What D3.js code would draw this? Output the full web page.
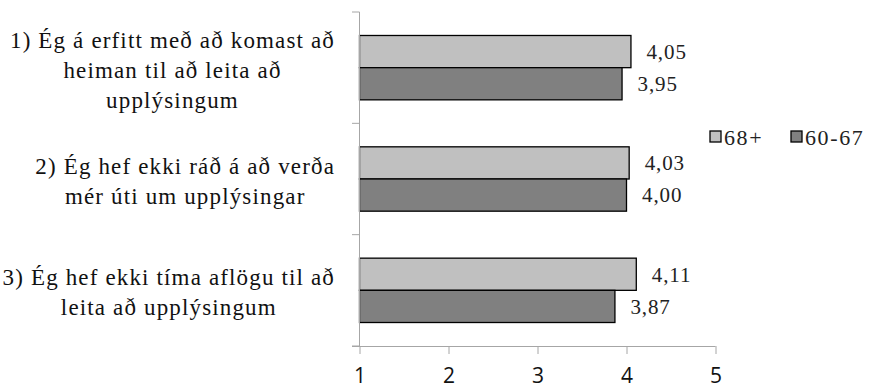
<!DOCTYPE html>
<html>
<head>
<meta charset="utf-8">
<script src="https://cdn.jsdelivr.net/npm/d3@7"></script>
<style>
  html, body { margin: 0; padding: 0; background: #fff; }
  svg { display: block; }
  .serif { font-family: "Liberation Serif", "DejaVu Serif", "Noto Serif", "Times New Roman", serif; }
  .sans { font-family: "Open Sans", "Noto Sans", sans-serif; }
</style>
</head>
<body>
<svg id="chart" width="873" height="390"></svg>
<script>
// Survey statements (each entry is a list of wrapped lines)
const categories = [
  ["1) Ég á erfitt með að komast að", "heiman til að leita að", "upplýsingum"],
  ["2) Ég hef ekki ráð á að verða", "mér úti um upplýsingar"],
  ["3) Ég hef ekki tíma aflögu til að", "leita að upplýsingum"]
];
const seriesNames = ["68+", "60-67"];
const values68 = [4.05, 4.03, 4.11];
const values6067 = [3.95, 4.00, 3.87];
const xTicks = [1, 2, 3, 4, 5];

const seriesValues = [values68, values6067];
const colors = ["#c0c0c0", "#808080"];

const svg = d3.select("#chart");
const plot = { left: 359.5, right: 715.5, top: 12, bottom: 346 };

const x = d3.scaleLinear().domain([1, 5]).range([plot.left, plot.right]);
const y = d3.scaleBand().domain(d3.range(categories.length)).range([plot.top, plot.bottom]);
const inner = d3.scaleBand().domain(d3.range(seriesNames.length))
  .range([0, y.bandwidth()]).paddingOuter(0.73).paddingInner(0);

// Bars
const groups = svg.append("g").selectAll("g")
  .data(categories.map((c, i) => i))
  .join("g")
  .attr("transform", i => `translate(0,${y(i)})`);

groups.selectAll("rect")
  .data(i => seriesValues.map((vals, s) => ({ s, v: vals[i] })))
  .join("rect")
  .attr("x", x(1))
  .attr("y", d => inner(d.s))
  .attr("width", d => x(d.v) - x(1))
  .attr("height", inner.bandwidth())
  .attr("fill", d => colors[d.s])
  .attr("stroke", "#000")
  .attr("stroke-width", 1.3);

// Value labels
groups.selectAll("text.val")
  .data(i => seriesValues.map((vals, s) => ({ s, v: vals[i] })))
  .join("text")
  .attr("class", "val serif")
  .attr("x", d => x(d.v) + 15.5)
  .attr("y", d => inner(d.s) + inner.bandwidth() / 2)
  .attr("dy", "0.35em")
  .attr("font-size", 21)
  .attr("letter-spacing", 0.9)
  .attr("fill", "#222")
  .text(d => d3.format(".2f")(d.v).replace(".", ","));

// X axis
const xAxis = svg.append("g")
  .attr("transform", `translate(0,${plot.bottom})`)
  .call(d3.axisBottom(x).tickValues(xTicks).tickSize(8).tickSizeOuter(0).tickPadding(14).tickFormat(d3.format("d")));
xAxis.select(".domain").attr("stroke", "#a6a6a6").attr("d", `M${plot.left - 7.5},0.5H${plot.right}`);
xAxis.selectAll(".tick line").attr("stroke", "#a6a6a6");
xAxis.selectAll(".tick text")
  .attr("class", "sans").attr("font-family", null).attr("font-size", 21).attr("fill", "#111");

// Y axis (category separators only)
const yAxisG = svg.append("g");
yAxisG.append("line")
  .attr("x1", plot.left).attr("x2", plot.left)
  .attr("y1", plot.top).attr("y2", plot.bottom)
  .attr("stroke", "#a6a6a6");
const sepYs = d3.range(categories.length).map(i => y(i)).concat([plot.bottom]);
yAxisG.selectAll("line.sep")
  .data(sepYs)
  .join("line")
  .attr("class", "sep")
  .attr("x1", plot.left - 7.5).attr("x2", plot.left)
  .attr("y1", d => d).attr("y2", d => d)
  .attr("stroke", "#a6a6a6");

// Category labels: centred text block, right edge aligned
const labelRight = 335;
const lineH = 30;
const labelG = svg.append("g");
categories.forEach((lines, i) => {
  const t = labelG.append("text")
    .attr("class", "serif")
    .attr("font-size", 23)
    .attr("letter-spacing", 1.15)
    .attr("fill", "#111")
    .attr("text-anchor", "middle");
  const spans = lines.map(l => t.append("tspan").text(l));
  const maxW = d3.max(spans, s => s.node().getComputedTextLength());
  const cx = labelRight - maxW / 2;
  const cy = y(i) + y.bandwidth() / 2 + 2;
  spans.forEach((s, k) => {
    s.attr("x", cx)
     .attr("y", cy + (k - (lines.length - 1) / 2) * lineH)
     .attr("dy", "0.35em");
  });
});

// Legend
const legend = svg.append("g");
const legendX = [710, 791];
seriesNames.forEach((name, s) => {
  legend.append("rect")
    .attr("x", legendX[s]).attr("y", 131)
    .attr("width", 11).attr("height", 11)
    .attr("fill", colors[s]).attr("stroke", "#000").attr("stroke-width", 1.3);
  legend.append("text")
    .attr("class", "serif")
    .attr("x", legendX[s] + 14).attr("y", 137)
    .attr("dy", "0.35em")
    .attr("font-size", 22)
    .attr("letter-spacing", 1.6)
    .attr("fill", "#222")
    .text(name);
});
</script>
</body>
</html>
